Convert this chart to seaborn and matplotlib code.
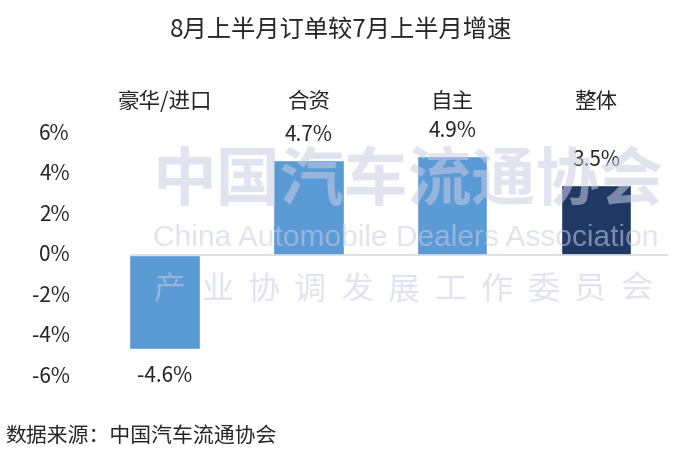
import matplotlib
matplotlib.use("Agg")
import matplotlib.pyplot as plt
import seaborn as sns
import pandas as pd

# chart data
categories = ["豪华/进口", "合资", "自主", "整体"]
growth = [-4.6, 4.7, 4.9, 3.5]
bar_colors = ["#5B9BD5", "#5B9BD5", "#5B9BD5", "#203864"]
y_ticks = [-6, -4, -2, 0, 2, 4, 6]

title = "8月上半月订单较7月上半月增速"
source = "数据来源：中国汽车流通协会"

sns.set_theme(style="white")
plt.rcParams["font.family"] = ["Noto Sans CJK SC", "DejaVu Sans"]

df = pd.DataFrame({"cat": categories, "val": growth})

fig = plt.figure(figsize=(6.82, 4.49), dpi=100)
ax = fig.add_axes([130 / 682, 1 - 377 / 449, 538 / 682, 243 / 449])

sns.barplot(data=df, x="cat", y="val", hue="cat", palette=bar_colors,
            legend=False, width=0.49, saturation=1, ax=ax, zorder=2)

ax.set_xlim(-0.24, 3.5)
ax.set_ylim(-6, 6)
ax.set_yticks(y_ticks)
ax.set_yticklabels([])
ax.tick_params(axis="y", length=0)
ax.set_xticks([])
ax.set_xlabel("")
ax.set_ylabel("")
for s in ax.spines.values():
    s.set_visible(False)
ax.axhline(0, color="#D9D9D9", lw=1.2, zorder=3)

# y tick labels, right edge around x=70px
ytrans = ax.get_yaxis_transform()
for t in y_ticks:
    ax.text(-60 / 538, t, f"{t}%", transform=ytrans, ha="right", va="center",
            fontsize=15, clip_on=False)

# value labels
for i, v in enumerate(growth):
    if v >= 0:
        ax.annotate(f"{v}%", (i, v), xytext=(0, 10), textcoords="offset points",
                    ha="center", va="bottom", fontsize=15)
    else:
        ax.annotate(f"{v}%", (i, v), xytext=(0, -12), textcoords="offset points",
                    ha="center", va="top", fontsize=15)

# category names above the plot
for i, c in enumerate(categories):
    ax.text(i, 1.13, c, transform=ax.get_xaxis_transform(), ha="center",
            va="center", fontsize=15.5)

fig.text(0.5, 1 - 31 / 449, title, ha="center", va="center", fontsize=17.5)
fig.text(5 / 682, 1 - 437 / 449, source, ha="left", va="center", fontsize=15)

# faint watermark
wm = "#C9CCE3"
fig.text(408 / 682, 1 - 182 / 449, "中国汽车流通协会", ha="center", va="center",
         fontsize=46, fontweight="bold", color=wm, alpha=0.55, zorder=5)
fig.text(406 / 682, 1 - 238 / 449, "China Automobile Dealers Association",
         ha="center", va="center", fontsize=21.5, family="Liberation Sans",
         color=wm, alpha=0.55, zorder=5)
for k, ch in enumerate("产业协调发展工作委员会"):
    fig.text((170 + k * 46.7) / 682, 1 - 290 / 449, ch, ha="center", va="center",
             fontsize=23, color=wm, alpha=0.55, zorder=5)

fig.savefig("out.png", dpi=100)
